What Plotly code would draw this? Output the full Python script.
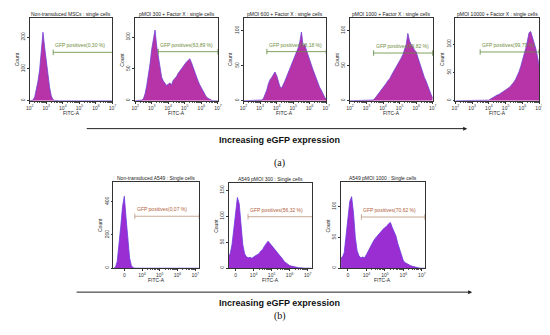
import math
import plotly.graph_objects as go

# ---------------- DATA ----------------
# Row (a): MSCs, log10(FITC-A) bin centres
fitc_bins_a = [2.0, 2.1, 2.2, 2.3, 2.4, 2.5, 2.6, 2.7, 2.8, 2.9,
               3.0, 3.1, 3.2, 3.3, 3.4, 3.5, 3.6, 3.7, 3.8, 3.9,
               4.0, 4.1, 4.2, 4.3, 4.4, 4.5, 4.6, 4.7, 4.8, 4.9,
               5.0, 5.1, 5.2, 5.3, 5.4, 5.5, 5.6, 5.7, 5.8, 5.9,
               6.0, 6.1, 6.2, 6.3, 6.4, 6.5, 6.6, 6.7, 6.8, 6.9,
               7.0]
counts_msc_control = [0, 0, 2, 12, 35, 62, 98, 172, 215, 168,
                      120, 80, 42, 15, 4, 1, 0, 0, 0, 0,
                      0, 0, 0, 0, 0, 0, 0, 0, 0, 0,
                      0, 0, 0, 0, 0, 0, 0, 0, 0, 0,
                      0, 0, 0, 0, 0, 0, 0, 0, 0, 0,
                      0]
counts_pmoi_300 = [0, 0, 0, 0, 1, 3, 11, 24, 40, 58,
                   81, 100, 111, 86, 70, 50, 37, 31, 27, 24,
                   26, 28, 25, 32, 35, 38, 43, 47, 51, 54,
                   57, 61, 63, 66, 60, 52, 45, 38, 31, 25,
                   20, 14, 9, 6, 4, 2, 1, 0, 0, 0,
                   0]
counts_pmoi_600 = [0, 0, 0, 0, 0, 0, 0, 0, 0, 0,
                   0, 1, 3, 8, 15, 24, 30, 33, 38, 41,
                   36, 28, 20, 18, 22, 28, 34, 40, 45, 50,
                   56, 62, 68, 75, 84, 98, 78, 80, 72, 64,
                   57, 51, 44, 37, 30, 25, 19, 15, 9, 5,
                   2]
counts_pmoi_1000 = [0, 0, 0, 0, 0, 0, 0, 0, 0, 0,
                    0, 0, 0, 0, 1, 3, 6, 9, 12, 15,
                    18, 22, 25, 29, 31, 36, 40, 43, 47, 52,
                    56, 61, 66, 72, 80, 96, 85, 80, 77, 72,
                    70, 62, 54, 47, 40, 33, 28, 21, 14, 9,
                    4]
counts_pmoi_10000 = [0, 0, 0, 0, 0, 0, 0, 0, 0, 0,
                     0, 0, 0, 0, 0, 0, 0, 0, 0, 0,
                     1, 3, 5, 6, 8, 10, 11, 13, 14, 16,
                     18, 20, 23, 26, 29, 33, 38, 44, 51, 60,
                     70, 80, 92, 105, 120, 122, 112, 104, 92, 78,
                     62]

# Row (b): A549, display units (3 = "0", 4 = 10^4 ...)
fitc_bins_b = [2.4, 2.5, 2.6, 2.7, 2.8, 2.9,
               3.0, 3.1, 3.2, 3.3, 3.4, 3.5, 3.6, 3.7, 3.8, 3.9,
               4.0, 4.1, 4.2, 4.3, 4.4, 4.5, 4.6, 4.7, 4.8, 4.9,
               5.0, 5.1, 5.2, 5.3, 5.4, 5.5, 5.6, 5.7, 5.8, 5.9,
               6.0, 6.1, 6.2, 6.3, 6.4, 6.5, 6.6, 6.7, 6.8, 6.9,
               7.0, 7.1, 7.2]
counts_a549_control = [0, 5, 40, 130, 250, 370,
                       432, 300, 160, 60, 15, 3, 0, 0, 0, 0,
                       0, 0, 0, 0, 0, 0, 0, 0, 0, 0,
                       0, 0, 0, 0, 0, 0, 0, 0, 0, 0,
                       0, 0, 0, 0, 0, 0, 0, 0, 0, 0,
                       0, 0, 0]
counts_a549_300 = [18, 20, 22, 28, 45, 75,
                   110, 136, 124, 85, 45, 28, 22, 20, 21, 19,
                   22, 24, 26, 28, 33, 36, 42, 47, 52, 48,
                   44, 40, 35, 32, 26, 22, 18, 13, 10, 7,
                   5, 4, 3, 2, 2, 1, 1, 0, 0, 0,
                   0, 0, 0]
counts_a549_1000 = [12, 14, 15, 18, 25, 50,
                    85, 108, 116, 90, 50, 28, 20, 17, 18, 17,
                    22, 28, 33, 38, 45, 49, 53, 57, 60, 63,
                    66, 68, 72, 74, 66, 60, 52, 40, 31, 22,
                    12, 9, 7, 5, 4, 3, 2, 1, 1, 0,
                    0, 0, 0]

panel_titles = ["Non-transduced MSCs : single cells",
                "pMOI 300 + Factor X : single cells",
                "pMOI 600 + Factor X : single cells",
                "pMOI 1000 + Factor X : single cells",
                "pMOI 10000 + Factor X : single cells",
                "Non-transduced A549 : Single cells",
                "A549 pMOI 300 : Single cells",
                "A549 pMOI 1000 : Single cells"]
gate_start = [3.42, 3.40, 3.41, 3.43, 3.48, 3.59, 3.69, 3.73]
gate_end = [7.0, 7.0, 7.0, 7.0, 7.0, 7.22, 7.27, 7.16]
gate_level = [152, 77, 70, 68, 86, 312, 99, 83]
gate_pct = ["0,30", "63,89", "98,18", "99,82", "99,79", "0,07", "56,32", "70,62"]
y_ticks = [[0, 100, 200], [0, 50, 100], [0, 50, 100], [0, 50, 100], [0, 50, 100],
           [0, 200, 400], [0, 50, 100, 150], [0, 50, 100]]
x_tickvals_a = [2, 3, 4, 5, 6, 7]
x_ticktext_a = ["10<sup>2</sup>", "10<sup>3</sup>", "10<sup>4</sup>",
                "10<sup>5</sup>", "10<sup>6</sup>", "10<sup>7</sup>"]
x_tickvals_b = [3, 4, 5, 6, 7]
x_ticktext_b = ["0", "10<sup>4</sup>", "10<sup>5</sup>", "10<sup>6</sup>", "10<sup>7</sup>"]

# ---------------- LAYOUT SPEC ----------------
# The page body has an 8 px margin, so the figure is drawn 8 px smaller and
# all target pixel positions are shifted by OFF.
OFF = 8
W, H = 550 - OFF, 335 - OFF


def fx(px):
    return (px - OFF) / W


def fy(py):
    return 1 - (py - OFF) / H


series = [(fitc_bins_a, counts_msc_control), (fitc_bins_a, counts_pmoi_300),
          (fitc_bins_a, counts_pmoi_600), (fitc_bins_a, counts_pmoi_1000),
          (fitc_bins_a, counts_pmoi_10000), (fitc_bins_b, counts_a549_control),
          (fitc_bins_b, counts_a549_300), (fitc_bins_b, counts_a549_1000)]
# pixel boxes in the target image: x0, x1, y0(top), y1(bottom)
boxes = [(26, 110, 18, 101), (133, 217, 18, 101), (243, 327, 18, 101),
         (351, 435, 18, 101), (458, 543, 18, 101),
         (111, 198, 183, 269), (228, 313, 184, 269), (342, 427, 183, 269)]
x_ranges = [[2, 7]] * 5 + [[2.39, 7.22], [2.62, 7.27], [2.63, 7.16]]
y_ranges = [[0, 260], [0, 130], [0, 118], [0, 118], [0, 146],
            [0, 515], [0, 163], [0, 139]]

fill_a = "#b634a8"
line_a = "#7040d4"
fill_b = "#9a2ed2"
line_b = "#6a3ae0"

fig = go.Figure()
annotations = []
font_fam = "Liberation Sans, Arial, sans-serif"

for i in range(8):
    n = i + 1
    xr = "x" if n == 1 else f"x{n}"
    yr = "y" if n == 1 else f"y{n}"
    xa = "xaxis" if n == 1 else f"xaxis{n}"
    ya = "yaxis" if n == 1 else f"yaxis{n}"
    x0, x1, y0, y1 = boxes[i]
    rowa = i < 5
    bx, cy = series[i]
    fig.add_trace(go.Scatter(
        x=bx, y=cy, mode="lines", xaxis=xr, yaxis=yr,
        fill="tozeroy", fillcolor=fill_a if rowa else fill_b,
        line=dict(color=line_a if rowa else line_b, width=0.8),
        showlegend=False, hoverinfo="skip"))
    gcol = "#5f8a3a" if rowa else "#b9957c"
    fig.add_trace(go.Scatter(
        x=[gate_start[i], gate_end[i]], y=[gate_level[i], gate_level[i]],
        mode="lines+markers", xaxis=xr, yaxis=yr,
        line=dict(color=gcol, width=0.8),
        marker=dict(symbol="line-ns-open", size=4, color=gcol, line=dict(width=0.8, color=gcol)),
        showlegend=False, hoverinfo="skip", cliponaxis=False))
    tcol = "#6f8d3c" if rowa else "#b0603a"
    annotations.append(dict(
        x=gate_start[i], y=gate_level[i], xref=xr, yref=yr,
        text=f"GFP positives({gate_pct[i]} %)", showarrow=False,
        xanchor="left", yanchor="bottom", yshift=2,
        font=dict(size=5, color=tcol, family=font_fam)))
    if rowa:
        minor_vals = [d + math.log10(k) for d in range(2, 7) for k in range(2, 10)]
        tv, tt = x_tickvals_a, x_ticktext_a
    else:
        minor_vals = [d + math.log10(k) for d in range(4, 7) for k in range(2, 10)]
        tv, tt = x_tickvals_b, x_ticktext_b
    fig.update_layout({
        xa: dict(domain=[fx(x0), fx(x1)], range=x_ranges[i], anchor=yr,
                 tickmode="array", tickvals=tv, ticktext=tt,
                 showline=True, mirror=True, linecolor="#333", linewidth=0.6,
                 ticks="outside", ticklen=2, tickwidth=0.6, tickcolor="#333",
                 tickfont=dict(size=5, color="#333", family=font_fam),
                 minor=dict(tickmode="array", tickvals=minor_vals, ticks="outside",
                            ticklen=1.2, tickwidth=0.5, tickcolor="#555"),
                 showgrid=False, zeroline=False, fixedrange=True),
        ya: dict(domain=[fy(y1), fy(y0)], range=y_ranges[i], anchor=xr,
                 tickmode="array", tickvals=y_ticks[i], tickangle=-90,
                 showline=True, mirror=True, linecolor="#333", linewidth=0.6,
                 ticks="outside", ticklen=2, tickwidth=0.6, tickcolor="#333",
                 tickfont=dict(size=5, color="#333", family=font_fam),
                 showgrid=False, zeroline=False, fixedrange=True),
    })
    # panel title
    annotations.append(dict(
        x=fx((x0 + x1) / 2), y=fy(y0 - 4), xref="paper", yref="paper",
        text=panel_titles[i], showarrow=False, xanchor="center", yanchor="middle",
        font=dict(size=5, color="#222", family=font_fam)))
    # axis titles
    annotations.append(dict(
        x=fx((x0 + x1) / 2), y=fy(y1 + 12), xref="paper", yref="paper",
        text="FITC-A", showarrow=False, xanchor="center", yanchor="middle",
        font=dict(size=5, color="#222", family=font_fam)))
    annotations.append(dict(
        x=fx(x0 - 13), y=fy((y0 + y1) / 2), xref="paper", yref="paper",
        text="Count", showarrow=False, textangle=-90, xanchor="center", yanchor="middle",
        font=dict(size=5, color="#222", family=font_fam)))

# arrows and captions
for (xs, xe, ya_px, ty, ly, lab) in [(88, 470, 129, 140, 163, "(a)"), (78, 475, 293, 304, 317, "(b)")]:
    annotations.append(dict(
        x=fx(xe), y=fy(ya_px), xref="paper", yref="paper",
        ax=-(xe - xs), ay=0, axref="pixel", ayref="pixel",
        text="", showarrow=True, arrowhead=2, arrowsize=0.8, arrowwidth=1,
        arrowcolor="#222"))
    annotations.append(dict(
        x=fx(280), y=fy(ty), xref="paper", yref="paper",
        text="<b>Increasing eGFP expression</b>", showarrow=False,
        xanchor="center", yanchor="middle",
        font=dict(size=9, color="#111", family=font_fam)))
    annotations.append(dict(
        x=fx(280), y=fy(ly), xref="paper", yref="paper",
        text=lab, showarrow=False, xanchor="center", yanchor="middle",
        font=dict(size=10, color="#111", family="Liberation Serif, Times New Roman, serif")))

fig.update_layout(
    width=W, height=H, margin=dict(l=0, r=0, t=0, b=0),
    paper_bgcolor="white", plot_bgcolor="white",
    annotations=annotations, showlegend=False)

fig.write_html("out.html")
